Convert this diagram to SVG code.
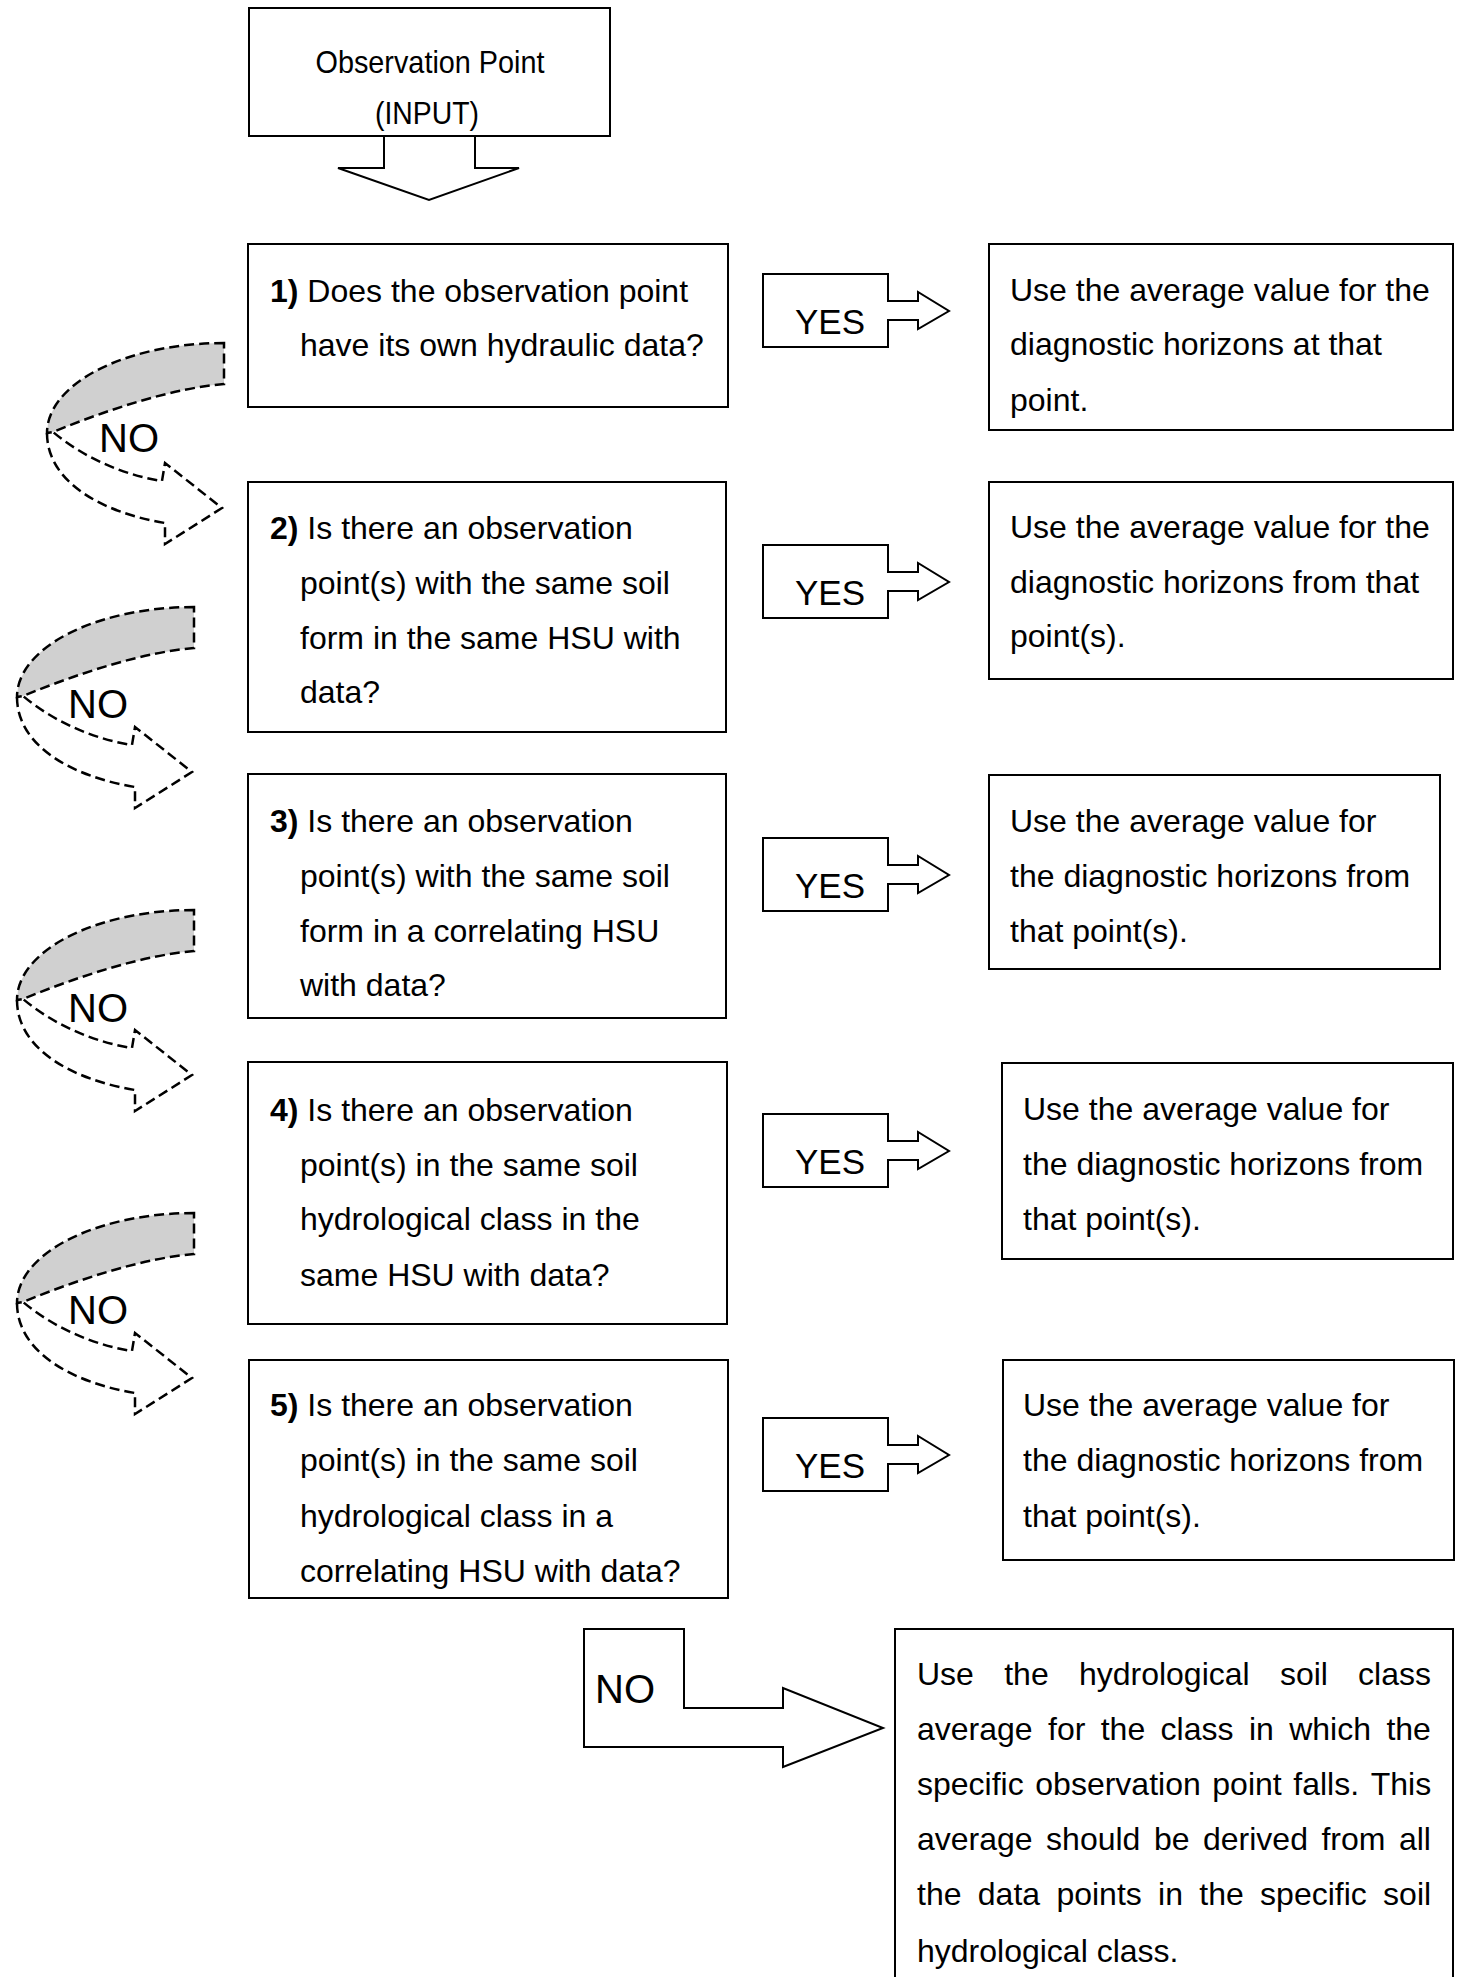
<svg xmlns="http://www.w3.org/2000/svg" width="1464" height="1977" viewBox="0 0 1464 1977">
<defs>
<style>
.box{fill:#fff;stroke:#000;stroke-width:2}
.ln{fill:none;stroke:#000;stroke-width:2}
.t{font-family:"Liberation Sans",Arial,sans-serif;font-size:32px;fill:#000}
.yes{font-family:"Liberation Sans",Arial,sans-serif;font-size:35px;fill:#000}
.no{font-family:"Liberation Sans",Arial,sans-serif;font-size:40px;fill:#000}
.b{font-weight:bold}
.dash{stroke:#000;stroke-width:2.5;stroke-dasharray:10 5}
</style>
<g id="curved-no">
<path class="dash" fill="#d0d0d0" d="M0,0 A177,90 0 0 0 -177,90 L-171,89 C-115,66 -50,45 0,41 Z"/>
<path class="dash" fill="none" d="M-177,90 C-177,140 -120,170 -59,180 L-59,201 L-2,165 L-59,120 L-62,138 C-100,132 -140,115 -171,89"/>
</g>
</defs>
<rect width="1464" height="1977" fill="#fff"/>

<g id="connectors">
<polyline class="ln" points="384,136 384,168 338,168 429,200 519,168 475,168 475,136"/>
<g id="yes1"><path class="box" d="M763,274 H888 V301 H918 V292 L949,311 L918,329 V320 H888 V347 H763 Z"/><text class="yes" x="795" y="334">YES</text></g>
<g id="yes2"><path class="box" d="M763,545 H888 V572 H918 V563 L949,582 L918,600 V591 H888 V618 H763 Z"/><text class="yes" x="795" y="605">YES</text></g>
<g id="yes3"><path class="box" d="M763,838 H888 V865 H918 V856 L949,875 L918,893 V884 H888 V911 H763 Z"/><text class="yes" x="795" y="898">YES</text></g>
<g id="yes4"><path class="box" d="M763,1114 H888 V1141 H918 V1132 L949,1151 L918,1169 V1160 H888 V1187 H763 Z"/><text class="yes" x="795" y="1174">YES</text></g>
<g id="yes5"><path class="box" d="M763,1418 H888 V1445 H918 V1436 L949,1455 L918,1473 V1464 H888 V1491 H763 Z"/><text class="yes" x="795" y="1478">YES</text></g>
<g id="no1"><use href="#curved-no" x="224" y="343"/><text class="no" x="99" y="452">NO</text></g>
<g id="no2"><use href="#curved-no" x="194" y="607"/><text class="no" x="68" y="718">NO</text></g>
<g id="no3"><use href="#curved-no" x="194" y="910"/><text class="no" x="68" y="1022">NO</text></g>
<g id="no4"><use href="#curved-no" x="194" y="1213"/><text class="no" x="68" y="1324">NO</text></g>
<g id="no5"><path class="box" d="M584,1629 H684 V1708 H783 V1688 L883,1728 L783,1767 V1747 H584 Z"/><text class="no" x="595" y="1703">NO</text></g>
</g>

<g id="start">
<rect class="box" x="249" y="8" width="361" height="128"/>
<text class="t" x="430" y="73" text-anchor="middle" textLength="229" lengthAdjust="spacingAndGlyphs">Observation Point</text>
<text class="t" x="427" y="124" text-anchor="middle" textLength="104" lengthAdjust="spacingAndGlyphs">(INPUT)</text>
</g>

<g id="q1">
<rect class="box" x="248" y="244" width="480" height="163"/>
<text class="t" x="270" y="302"><tspan class="b">1)</tspan> Does the observation point</text>
<text class="t" x="300" y="356">have its own hydraulic data?</text>
</g>
<g id="q2">
<rect class="box" x="248" y="482" width="478" height="250"/>
<text class="t" x="270" y="539"><tspan class="b">2)</tspan> Is there an observation</text>
<text class="t" x="300" y="594">point(s) with the same soil</text>
<text class="t" x="300" y="649">form in the same HSU with</text>
<text class="t" x="300" y="703">data?</text>
</g>
<g id="q3">
<rect class="box" x="248" y="774" width="478" height="244"/>
<text class="t" x="270" y="832"><tspan class="b">3)</tspan> Is there an observation</text>
<text class="t" x="300" y="887">point(s) with the same soil</text>
<text class="t" x="300" y="942">form in a correlating HSU</text>
<text class="t" x="300" y="996">with data?</text>
</g>
<g id="q4">
<rect class="box" x="248" y="1062" width="479" height="262"/>
<text class="t" x="270" y="1121"><tspan class="b">4)</tspan> Is there an observation</text>
<text class="t" x="300" y="1176">point(s) in the same soil</text>
<text class="t" x="300" y="1230">hydrological class in the</text>
<text class="t" x="300" y="1286">same HSU with data?</text>
</g>
<g id="q5">
<rect class="box" x="249" y="1360" width="479" height="238"/>
<text class="t" x="270" y="1416"><tspan class="b">5)</tspan> Is there an observation</text>
<text class="t" x="300" y="1471">point(s) in the same soil</text>
<text class="t" x="300" y="1527">hydrological class in a</text>
<text class="t" x="300" y="1582">correlating HSU with data?</text>
</g>

<g id="r1">
<rect class="box" x="989" y="244" width="464" height="186"/>
<text class="t" x="1010" y="301">Use the average value for the</text>
<text class="t" x="1010" y="355">diagnostic horizons at that</text>
<text class="t" x="1010" y="411">point.</text>
</g>
<g id="r2">
<rect class="box" x="989" y="482" width="464" height="197"/>
<text class="t" x="1010" y="538">Use the average value for the</text>
<text class="t" x="1010" y="593">diagnostic horizons from that</text>
<text class="t" x="1010" y="647">point(s).</text>
</g>
<g id="r3">
<rect class="box" x="989" y="775" width="451" height="194"/>
<text class="t" x="1010" y="832">Use the average value for</text>
<text class="t" x="1010" y="887">the diagnostic horizons from</text>
<text class="t" x="1010" y="942">that point(s).</text>
</g>
<g id="r4">
<rect class="box" x="1002" y="1063" width="451" height="196"/>
<text class="t" x="1023" y="1120">Use the average value for</text>
<text class="t" x="1023" y="1175">the diagnostic horizons from</text>
<text class="t" x="1023" y="1230">that point(s).</text>
</g>
<g id="r5">
<rect class="box" x="1003" y="1360" width="451" height="200"/>
<text class="t" x="1023" y="1416">Use the average value for</text>
<text class="t" x="1023" y="1471">the diagnostic horizons from</text>
<text class="t" x="1023" y="1527">that point(s).</text>
</g>

<g id="final">
<path class="box" d="M895,1985 V1629 H1453 V1985"/>
<text class="t" y="1685"><tspan x="917">Use</tspan><tspan x="1004.2">the</tspan><tspan x="1078.9">hydrological</tspan><tspan x="1279.9">soil</tspan><tspan x="1358.1">class</tspan></text>
<text class="t" y="1740"><tspan x="917">average</tspan><tspan x="1048">for</tspan><tspan x="1100.7">the</tspan><tspan x="1160.6">class</tspan><tspan x="1248.9">in</tspan><tspan x="1289.2">which</tspan><tspan x="1386.4">the</tspan></text>
<text class="t" y="1795"><tspan x="917">specific</tspan><tspan x="1035.3">observation</tspan><tspan x="1212.3">point</tspan><tspan x="1293.3">falls.</tspan><tspan x="1370.7">This</tspan></text>
<text class="t" y="1850"><tspan x="917">average</tspan><tspan x="1046.1">should</tspan><tspan x="1153.9">be</tspan><tspan x="1203">derived</tspan><tspan x="1321.4">from</tspan><tspan x="1398.9">all</tspan></text>
<text class="t" y="1905"><tspan x="917">the</tspan><tspan x="977.8">data</tspan><tspan x="1056.4">points</tspan><tspan x="1158.1">in</tspan><tspan x="1199.3">the</tspan><tspan x="1260.1">specific</tspan><tspan x="1383.1">soil</tspan></text>
<text class="t" x="917" y="1962">hydrological class.</text>
</g>
</svg>
